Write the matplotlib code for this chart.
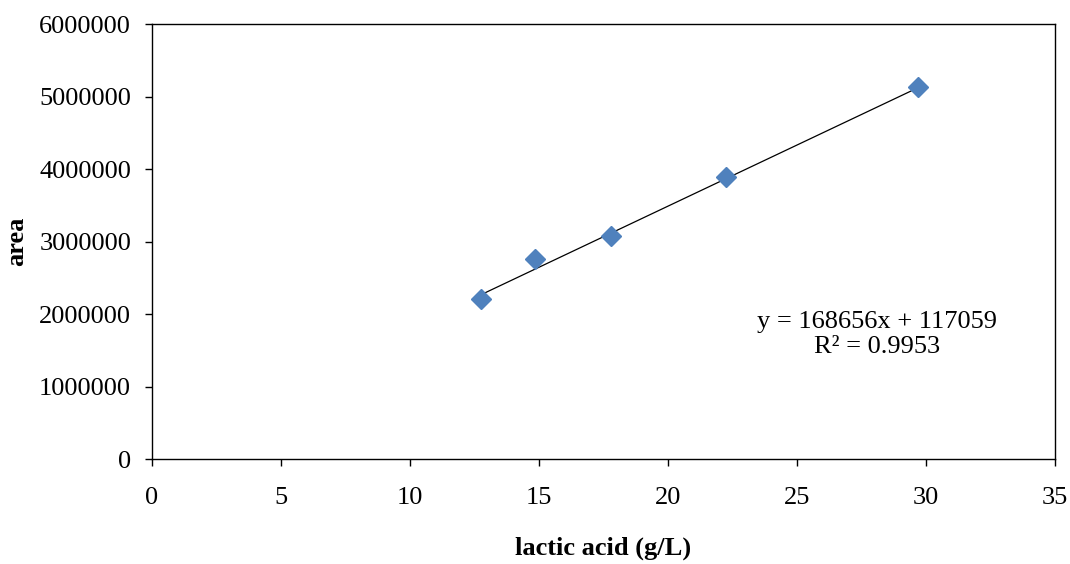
import matplotlib.pyplot as plt

lactic = [12.75, 14.85, 17.8, 22.25, 29.7]
area = [2205000, 2755000, 3075000, 3890000, 5130000]
slope = 168656
intercept = 117059
r2 = 0.9953

plt.rcParams['font.family'] = ['Liberation Serif', 'DejaVu Serif']

fig = plt.figure(figsize=(10.7, 5.64), dpi=100)
ax = fig.add_axes([0.142, 0.186, 0.844, 0.771])

fit_x = [min(lactic), max(lactic)]
fit_y = [slope * x + intercept for x in fit_x]
ax.plot(fit_x, fit_y, color='black', lw=0.9, zorder=2)
ax.plot(lactic, area, 'D', color='#4F81BD', ms=10, mec='#4F81BD', zorder=3)

ax.set_xlim(0, 35)
ax.set_ylim(0, 6000000)
ax.set_xticks(range(0, 36, 5))
ax.set_yticks(range(0, 6000001, 1000000))
ax.set_yticklabels([str(v) for v in range(0, 6000001, 1000000)])
ax.tick_params(direction='out', length=5, width=1, labelsize=19)
ax.tick_params(axis='y', pad=10)
ax.tick_params(axis='x', pad=15)
for s in ax.spines.values():
    s.set_linewidth(1)

ax.set_xlabel('lactic acid (g/L)', fontsize=19, fontweight='bold', labelpad=20)
ax.set_ylabel('area', fontsize=19, fontweight='bold', labelpad=8)

ax.text(28.1, 1720000, 'y = 168656x + 117059\nR² = 0.9953', ha='center', va='center',
        fontsize=19, linespacing=1.15)

fig.savefig('out.png', dpi=100)
